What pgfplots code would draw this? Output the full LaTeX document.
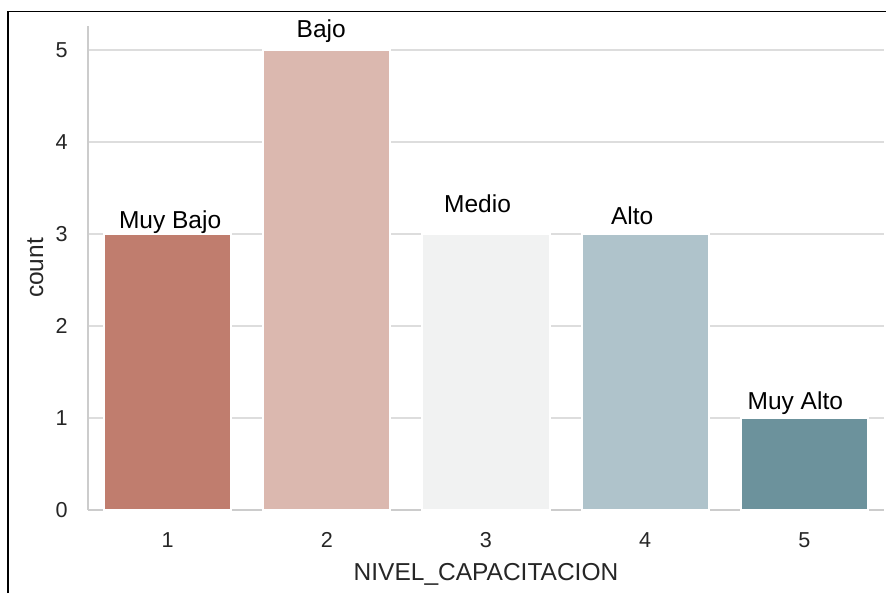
\documentclass[border=0pt]{standalone}
\usepackage{fontspec}
\setmainfont{Liberation Sans}
\usepackage{pgfplots}
\pgfplotsset{compat=1.18}
\definecolor{txt}{RGB}{38,38,38}
\definecolor{spine}{RGB}{204,204,204}
\definecolor{gridc}{RGB}{221,221,221}
\definecolor{cA}{RGB}{192,125,110}
\definecolor{cB}{RGB}{219,184,175}
\definecolor{cC}{RGB}{241,242,242}
\definecolor{cD}{RGB}{175,195,203}
\definecolor{cE}{RGB}{108,146,156}
\begin{document}
\begin{tikzpicture}
\useasboundingbox (-44pt,-41.5pt) rectangle (399pt,255pt);
\draw[black, line width=0.9pt] (-40pt,-41.5pt) -- (-40pt,249.25pt) -- (399pt,249.25pt);
\begin{axis}[
  at={(0,0)}, anchor=south west,
  scale only axis, width=398pt, height=242pt,
  xmin=0.5, xmax=5.5, ymin=0, ymax=5.26,
  clip=false,
  axis x line*=bottom, axis y line*=left,
  axis line style={draw=spine, line width=1pt, -},
  xtick={1,2,3,4,5}, ytick={0,1,2,3,4,5},
  major tick length=0pt,
  ymajorgrids, grid style={gridc, line width=1pt},
  /pgf/number format/assume math mode=true,
  tick label style={font=\fontsize{10.8}{12}\selectfont, text=txt, inner sep=0pt},
  xticklabel style={anchor=base, yshift=-18.5pt},
  yticklabel style={anchor=east, xshift=-10pt},
  label style={font=\fontsize{12.25}{14}\selectfont, text=txt},
  xlabel={NIVEL\_CAPACITACION},
  xlabel style={at={(axis description cs:0.5,0)}, anchor=base, yshift=-35pt, inner sep=0pt},
  ylabel={count},
  ylabel style={at={(axis description cs:-0.0565,0.5)}, anchor=base, inner sep=0pt},
  ybar, bar width=0.8, bar shift=0pt,
  every axis plot/.append style={draw=white, line width=1pt},
]
\addplot[fill=cA] coordinates {(1,3)};
\addplot[fill=cB] coordinates {(2,5)};
\addplot[fill=cC] coordinates {(3,3)};
\addplot[fill=cD] coordinates {(4,3)};
\addplot[fill=cE] coordinates {(5,1)};
\begin{scope}[every node/.style={font=\fontsize{12.25}{14}\selectfont, text=black, anchor=base, inner sep=0pt}]
\node at (axis cs:1.016,3.06) {Muy Bajo};
\node at (axis cs:1.965,5.13) {Bajo};
\node at (axis cs:2.947,3.23) {Medio};
\node at (axis cs:3.918,3.10) {Alto};
\node at (axis cs:4.943,1.087) {Muy Alto};
\end{scope}
\end{axis}
\end{tikzpicture}
\end{document}
